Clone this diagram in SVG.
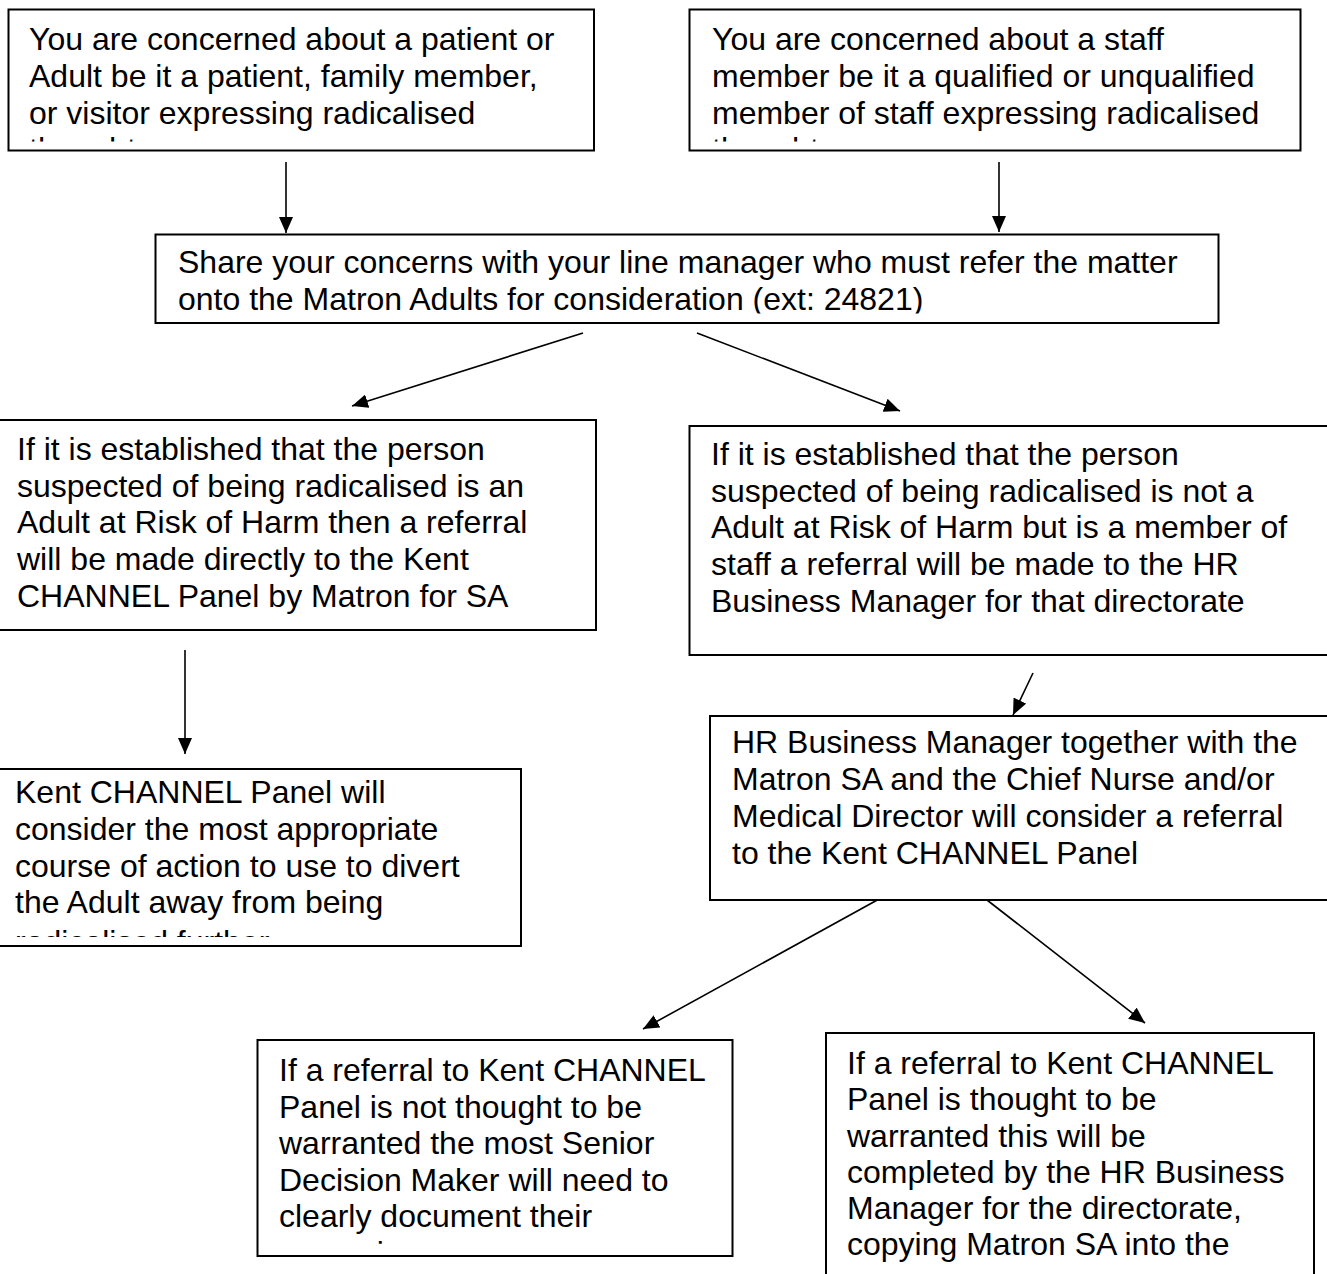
<svg xmlns="http://www.w3.org/2000/svg" width="1327" height="1274" viewBox="0 0 1327 1274">
<defs>
<style>
.box{fill:#fff;stroke:#000;stroke-width:2}
.t{font-family:"Liberation Sans",Arial,sans-serif;font-size:32px;fill:#000}
.c{stroke:#000;stroke-width:1.6;fill:none;marker-end:url(#ah)}
</style>
<marker id="ah" markerUnits="userSpaceOnUse" markerWidth="16" markerHeight="14" refX="16" refY="7" orient="auto" viewBox="0 0 16 14"><path d="M0,0 L16,7 L0,14 z" fill="#000"/></marker>
<clipPath id="cA"><rect x="8" y="9" width="587" height="132.5"/></clipPath>
<clipPath id="cB"><rect x="689" y="9" width="612" height="132.5"/></clipPath>
<clipPath id="cC"><rect x="155" y="234" width="1064" height="79.5"/></clipPath>
<clipPath id="cF"><rect x="0" y="769" width="521" height="168"/></clipPath>
<clipPath id="cH"><rect x="257" y="1040" width="476" height="206"/></clipPath>
</defs>
<rect width="1327" height="1274" fill="#fff"/>

<g id="connectors">
<line class="c" x1="286" y1="162" x2="286" y2="233"/>
<line class="c" x1="999" y1="162" x2="999" y2="232"/>
<line class="c" x1="583" y1="333" x2="352" y2="406"/>
<line class="c" x1="697" y1="333" x2="900" y2="411"/>
<line class="c" x1="185" y1="650" x2="185" y2="754"/>
<line class="c" x1="1033" y1="673" x2="1013" y2="715"/>
<line class="c" x1="890" y1="893" x2="643" y2="1029"/>
<line class="c" x1="978" y1="893" x2="1145" y2="1023"/>
</g>

<g id="nodeA">
<rect class="box" x="8.5" y="9.5" width="585.5" height="141"/>
<text class="t" clip-path="url(#cA)"><tspan x="29" y="50">You are concerned about a patient or</tspan><tspan x="29" y="86.8">Adult be it a patient, family member,</tspan><tspan x="29" y="123.6">or visitor expressing radicalised</tspan><tspan x="29" y="160.4">thoughts</tspan></text>
</g>

<g id="nodeB">
<rect class="box" x="689.5" y="9.5" width="611" height="141"/>
<text class="t" clip-path="url(#cB)"><tspan x="712" y="50">You are concerned about a staff</tspan><tspan x="712" y="86.8">member be it a qualified or unqualified</tspan><tspan x="712" y="123.6">member of staff expressing radicalised</tspan><tspan x="712" y="160.4">thoughts</tspan></text>
</g>

<g id="nodeC">
<rect class="box" x="155.5" y="234.5" width="1063" height="88.5"/>
<text class="t" clip-path="url(#cC)"><tspan x="178" y="273">Share your concerns with your line manager who must refer the matter</tspan><tspan x="178" y="310">onto the Matron Adults for consideration (ext: 24821)</tspan></text>
</g>

<g id="nodeD">
<rect class="box" x="-5" y="420" width="601" height="210"/>
<text class="t"><tspan x="17" y="460">If it is established that the person</tspan><tspan x="17" y="497">suspected of being radicalised is an</tspan><tspan x="17" y="533">Adult at Risk of Harm then a referral</tspan><tspan x="17" y="570">will be made directly to the Kent</tspan><tspan x="17" y="607">CHANNEL Panel by Matron for SA</tspan></text>
</g>

<g id="nodeE">
<rect class="box" x="689.5" y="426" width="650" height="229"/>
<text class="t"><tspan x="711" y="465">If it is established that the person</tspan><tspan x="711" y="502">suspected of being radicalised is not a</tspan><tspan x="711" y="538">Adult at Risk of Harm but is a member of</tspan><tspan x="711" y="575">staff a referral will be made to the HR</tspan><tspan x="711" y="612">Business Manager for that directorate</tspan></text>
</g>

<g id="nodeF">
<rect class="box" x="-5" y="769" width="526" height="177"/>
<text class="t" clip-path="url(#cF)"><tspan x="15" y="803">Kent CHANNEL Panel will</tspan><tspan x="15" y="840">consider the most appropriate</tspan><tspan x="15" y="877">course of action to use to divert</tspan><tspan x="15" y="913">the Adult away from being</tspan><tspan x="15" y="953">radicalised further</tspan></text>
</g>

<g id="nodeG">
<rect class="box" x="710" y="716" width="630" height="184"/>
<text class="t"><tspan x="732" y="753">HR Business Manager together with the</tspan><tspan x="732" y="790">Matron SA and the Chief Nurse and/or</tspan><tspan x="732" y="827">Medical Director will consider a referral</tspan><tspan x="732" y="864">to the Kent CHANNEL Panel</tspan></text>
</g>

<g id="nodeH">
<rect class="box" x="257.5" y="1040" width="475" height="216"/>
<text class="t" clip-path="url(#cH)"><tspan x="279" y="1081">If a referral to Kent CHANNEL</tspan><tspan x="279" y="1117.5">Panel is not thought to be</tspan><tspan x="279" y="1154">warranted the most Senior</tspan><tspan x="279" y="1190.5">Decision Maker will need to</tspan><tspan x="279" y="1227">clearly document their</tspan><tspan x="279" y="1263.5">reasoning</tspan></text>
</g>

<g id="nodeI">
<rect class="box" x="826" y="1033" width="488" height="270"/>
<text class="t"><tspan x="847" y="1074">If a referral to Kent CHANNEL</tspan><tspan x="847" y="1110">Panel is thought to be</tspan><tspan x="847" y="1147">warranted this will be</tspan><tspan x="847" y="1183">completed by the HR Business</tspan><tspan x="847" y="1219">Manager for the directorate,</tspan><tspan x="847" y="1255">copying Matron SA into the</tspan></text>
</g>
</svg>
